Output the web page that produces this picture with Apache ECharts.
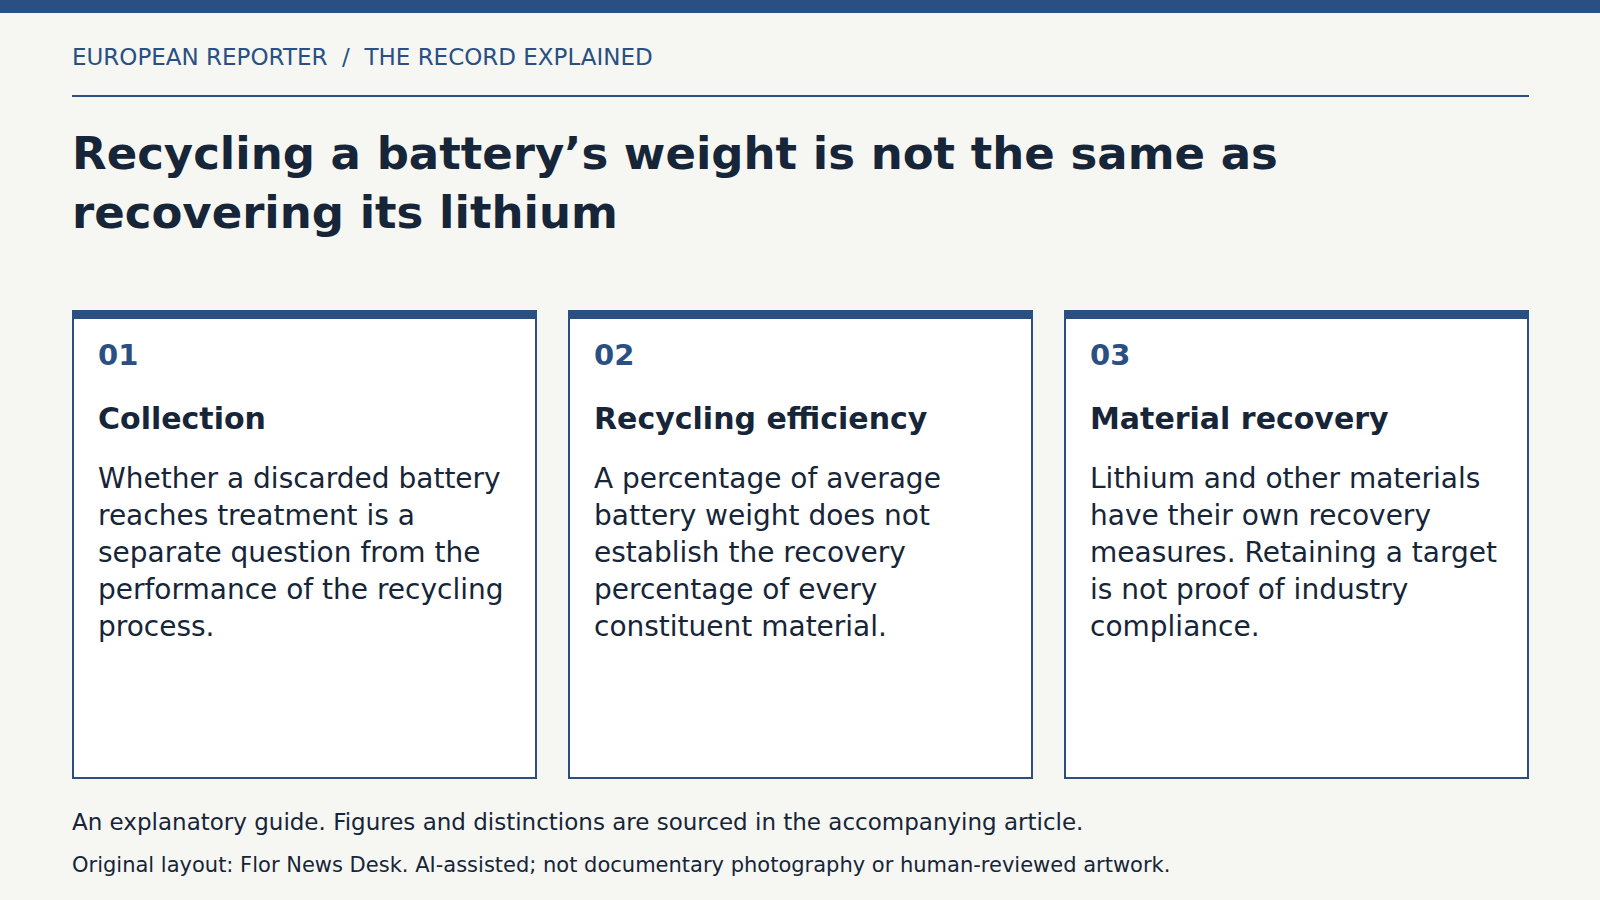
<!DOCTYPE html>
<html lang="en">
<head>
    <meta charset="UTF-8">
    <title>Recycling a battery's weight</title>
    <script src="https://cdn.jsdelivr.net/npm/echarts@6/dist/echarts.min.js"></script>
    <style>
        html, body { margin: 0; padding: 0; background: #f6f7f2; }
        #main text { white-space: pre; }
    </style>
</head>
<body>
    <div id="main" style="width: 1600px;height:900px;"></div>
    <script type="text/javascript">
        var kicker = 'EUROPEAN REPORTER  /  THE RECORD EXPLAINED';
        var titleLines = ['Recycling a battery’s weight is not the same as', 'recovering its lithium'];
        var cardNumbers = ['01', '02', '03'];
        var cardTitles = ['Collection', 'Recycling efficiency', 'Material recovery'];
        var cardBodies = [
            ['Whether a discarded battery', 'reaches treatment is a', 'separate question from the', 'performance of the recycling', 'process.'],
            ['A percentage of average', 'battery weight does not', 'establish the recovery', 'percentage of every', 'constituent material.'],
            ['Lithium and other materials', 'have their own recovery', 'measures. Retaining a target', 'is not proof of industry', 'compliance.']
        ];
        var footNote = 'An explanatory guide. Figures and distinctions are sourced in the accompanying article.';
        var credit = 'Original layout: Flor News Desk. AI-assisted; not documentary photography or human-reviewed artwork.';

        var BLUE = '#2a5083', INK = '#162538', FONT = '"DejaVu Sans"';

        function label(x, y, text, size, weight, color) {
            return {
                type: 'text', x: x, y: y,
                style: { text: text, fontFamily: FONT, fontSize: size, fontWeight: weight, fill: color, verticalAlign: 'middle' }
            };
        }

        var els = [
            { type: 'rect', shape: { x: 0, y: 0, width: 1600, height: 13 }, style: { fill: BLUE } },
            label(72, 57, kicker, 23, 'normal', BLUE),
            { type: 'rect', shape: { x: 72, y: 95, width: 1457, height: 2 }, style: { fill: BLUE } }
        ];
        titleLines.forEach(function (t, i) {
            els.push(label(72, 153 + i * 59, t, 45, 'bold', INK));
        });
        cardNumbers.forEach(function (n, i) {
            var left = 72 + i * 496;
            els.push({ type: 'rect', shape: { x: left + 1, y: 311, width: 463, height: 467 }, style: { fill: '#ffffff', stroke: BLUE, lineWidth: 2 } });
            els.push({ type: 'rect', shape: { x: left, y: 310, width: 465, height: 9 }, style: { fill: BLUE } });
            els.push(label(left + 26, 355, n, 29, 'bold', BLUE));
            els.push(label(left + 26, 418, cardTitles[i], 30, 'bold', INK));
            cardBodies[i].forEach(function (line, j) {
                els.push(label(left + 26, 478 + j * 37, line, 28, 'normal', INK));
            });
        });
        els.push(label(72, 822, footNote, 23, 'normal', INK));
        els.push(label(72, 865, credit, 21, 'normal', INK));

        var myChart = echarts.init(document.getElementById('main'), null, { renderer: 'svg' });
        myChart.setOption({
            backgroundColor: '#f6f7f2',
            animation: false,
            graphic: { elements: els }
        });
    </script>
</body>
</html>
